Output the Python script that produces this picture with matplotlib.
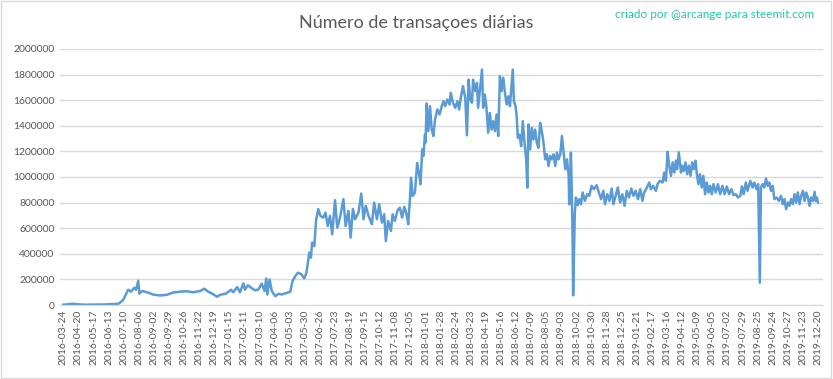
import matplotlib
matplotlib.use('Agg')
import numpy as np
import matplotlib.pyplot as plt
from matplotlib.patches import Rectangle

# category labels shown on the x axis (every 27th row of the sheet)
tick_labels = [
    '2016-03-24', '2016-04-20', '2016-05-17', '2016-06-13', '2016-07-10', '2016-08-06',
    '2016-09-02', '2016-09-29', '2016-10-26', '2016-11-22', '2016-12-19',
    '2017-01-15', '2017-02-11', '2017-03-10', '2017-04-06', '2017-05-03', '2017-05-30',
    '2017-06-26', '2017-07-23', '2017-08-19', '2017-09-15', '2017-10-12', '2017-11-08',
    '2017-12-05',
    '2018-01-01', '2018-01-28', '2018-02-24', '2018-03-23', '2018-04-19', '2018-05-16',
    '2018-06-12', '2018-07-09', '2018-08-05', '2018-09-03', '2018-10-02', '2018-10-30',
    '2018-11-28', '2018-12-25',
    '2019-01-21', '2019-02-17', '2019-03-16', '2019-04-12', '2019-05-09', '2019-06-05',
    '2019-07-02', '2019-07-29', '2019-08-25', '2019-09-24', '2019-10-27', '2019-11-23',
    '2019-12-20',
]
rows_per_tick = 27

# row number in the sheet (0 = 2016-03-24) and daily transaction count
row_idx = [
    0, 5, 16, 26, 39, 57, 75, 87, 98, 101, 107, 112, 116, 121, 127, 130, 134, 136, 141, 150,
    161, 173, 185, 196, 209, 221, 232, 245, 252, 259, 268, 275, 280, 291, 300, 304, 311, 316,
    322, 325, 330, 336,
    343, 349, 355, 360, 363, 365, 369, 373, 379, 385, 391, 400, 406, 410, 415, 420, 426, 431,
    435, 440, 443, 445, 449, 452, 456, 460, 465, 469, 473, 477, 481, 486, 490, 495, 501, 505,
    510, 514, 518, 522, 528, 533, 537, 541, 546, 552, 556, 561, 565, 570, 574, 577, 581, 586,
    589, 593, 598, 602, 606, 610, 614, 617,
    620, 622, 625, 629, 633, 637, 639, 642, 644, 647, 648, 650, 653, 656, 659, 662, 665, 669,
    673, 677, 680, 683, 687, 691, 693, 697, 701, 705, 708, 711, 715, 719, 722, 725, 728, 731,
    733, 737, 740, 742, 745, 749, 751, 754, 757, 760, 763, 766, 769, 772, 775, 778, 781, 784,
    787, 790, 793, 796, 799, 801, 804, 806, 809, 811, 813, 816, 819, 822, 825, 828, 830, 832,
    835, 838, 841, 844, 847, 850, 853, 856, 859, 862, 865, 868, 871, 874, 877, 880, 883, 886,
    889, 892, 895, 898, 901, 904, 905, 908, 909, 911, 912, 915, 917, 920, 923, 926, 929, 933,
    937, 941, 945, 949, 954, 958, 962, 966, 969, 973, 977, 981, 984, 988, 992, 996, 1000,
    1004, 1008, 1012, 1016, 1020, 1024, 1028, 1032, 1036, 1039, 1044, 1048, 1051, 1055, 1060,
    1063, 1067, 1072, 1075, 1078, 1081, 1084, 1087, 1090, 1093, 1096, 1098, 1101, 1105, 1107,
    1110, 1113, 1116, 1119, 1122, 1125, 1128, 1131, 1133, 1136, 1139, 1142, 1145, 1148, 1151,
    1154, 1157, 1160, 1163, 1167, 1171, 1175, 1179, 1183, 1187, 1191, 1195, 1199, 1203, 1207,
    1211, 1214, 1217, 1221, 1224, 1229, 1233, 1236, 1240, 1243, 1246, 1248, 1251, 1254, 1257,
    1260, 1263, 1266, 1269, 1272, 1276, 1280, 1284, 1287, 1290, 1293, 1296, 1299, 1302, 1305,
    1308, 1311, 1314, 1317, 1320, 1323, 1326, 1329, 1332, 1335, 1338, 1341, 1344, 1346, 1348,
    1350,
]
tx_count = [
    3000, 5000, 10000, 6000, 3000, 4000, 5000, 8000, 10000, 18000, 40000, 85000, 120000,
    105000, 135000, 120000, 190000, 90000, 110000, 100000, 82000, 75000, 80000, 98000,
    105000, 108000, 100000, 110000, 128000, 105000, 85000, 65000, 80000, 90000, 120000,
    100000, 140000, 100000, 170000, 120000, 155000, 135000,
    115000, 122000, 167000, 110000, 208000, 83000, 200000, 110000, 70000, 88000, 83000,
    96000, 104000, 188000, 227000, 253000, 240000, 208000, 253000, 410000, 370000, 488000,
    460000, 657000, 750000, 696000, 683000, 722000, 618000, 696000, 553000, 819000, 605000,
    683000, 827000, 618000, 735000, 527000, 750000, 670000, 722000, 871000, 670000, 775000,
    696000, 631000, 800000, 670000, 788000, 644000, 709000, 500000, 657000, 579000, 709000,
    657000, 740000, 761000, 683000, 767000, 709000, 631000,
    826000, 995000, 852000, 878000, 1110000, 1008000, 943000, 1215000, 1164000, 1330000,
    1270000, 1574000, 1358000, 1553000, 1370000, 1320000, 1450000, 1527000, 1488000,
    1553000, 1592000, 1553000, 1605000, 1566000, 1657000, 1580000, 1540000, 1592000,
    1527000, 1618000, 1709000, 1618000, 1325000, 1760000, 1605000, 1580000, 1760000,
    1670000, 1735000, 1540000, 1670000, 1839000, 1540000, 1644000, 1540000, 1345000,
    1500000, 1370000, 1436000, 1358000, 1488000, 1320000, 1787000, 1670000, 1774000,
    1657000, 1566000, 1630000, 1553000, 1670000, 1839000, 1592000, 1553000, 1475000,
    1306000, 1330000, 1240000, 1436000, 1267000, 1138000, 917000, 1410000, 1215000,
    1384000, 1293000, 1370000, 1267000, 1228000, 1423000, 1358000, 1267000, 1138000,
    1177000, 1086000, 1164000, 1138000, 1177000, 1086000, 1190000, 1138000, 1177000,
    1320000, 1190000, 1060000, 1138000, 1008000, 787000, 1190000, 1010000, 540000, 76000,
    722000, 840000, 780000, 827000, 788000, 879000, 814000, 866000, 853000, 931000, 905000,
    936000, 879000, 827000, 892000, 788000, 866000, 814000, 910000, 788000, 853000, 918000,
    801000, 866000, 775000, 892000, 840000, 910000, 853000, 892000, 827000, 905000, 814000,
    879000, 918000, 957000, 905000, 931000, 892000, 944000, 970000, 957000, 1035000,
    970000, 1197000, 1088000, 1009000, 1114000, 1035000, 1127000, 1061000, 1192000,
    1035000, 1088000, 1048000, 1114000, 1022000, 1088000, 1009000, 1114000, 1061000,
    1127000, 1035000, 944000, 1022000, 918000, 1009000, 866000, 957000, 879000, 931000,
    866000, 944000, 879000, 944000, 866000, 931000, 866000, 926000, 866000, 905000, 858000,
    866000, 840000, 853000, 926000, 866000, 957000, 892000, 970000, 918000, 957000, 905000,
    944000, 175000, 918000, 944000, 918000, 988000, 931000, 957000, 892000, 931000, 827000,
    840000, 814000, 853000, 788000, 827000, 749000, 801000, 775000, 827000, 788000, 866000,
    801000, 879000, 788000, 853000, 892000, 814000, 879000, 840000, 775000, 840000, 814000,
    884000, 814000, 840000, 801000,
]

title = 'Número de transaçoes diárias'
credit = 'criado por @arcange para steemit.com'

line_color = '#5B9BD5'
grid_color = '#D9D9D9'
text_color = '#595959'

plt.rcParams['font.family'] = ['Lato', 'DejaVu Sans']

fig = plt.figure(figsize=(8.33, 3.79), dpi=100)
ax = fig.add_axes([0.072, 0.195, 0.916, 0.676])

ax.plot(row_idx, tx_count, color=line_color, linewidth=1.8, solid_joinstyle='round')

ax.set_ylim(0, 2000000)
ax.set_yticks(np.arange(0, 2000001, 200000))
ax.set_yticklabels([str(v) for v in range(0, 2000001, 200000)])
ax.set_xlim(-6, 1359)
ax.set_xticks([i * rows_per_tick for i in range(len(tick_labels))])
ax.set_xticklabels(tick_labels, rotation=90)

ax.grid(axis='y', color=grid_color, linewidth=1)
ax.set_axisbelow(True)
for s in ['left', 'right', 'top']:
    ax.spines[s].set_visible(False)
ax.spines['bottom'].set_color(grid_color)
ax.tick_params(axis='both', length=0, labelsize=7.5, colors=text_color, pad=4)
ax.tick_params(axis='x', pad=3)

fig.text(0.5, 0.94, title, ha='center', va='center', fontsize=13, color=text_color)
fig.text(0.978, 0.962, credit, ha='right', va='center', fontsize=8.5, color='#21C9A6')

fig.patches.append(Rectangle((0.001, 0.002), 0.997, 0.995, transform=fig.transFigure,
                             fill=False, edgecolor='#D9D9D9', linewidth=1))

plt.savefig('out.png', dpi=100)
